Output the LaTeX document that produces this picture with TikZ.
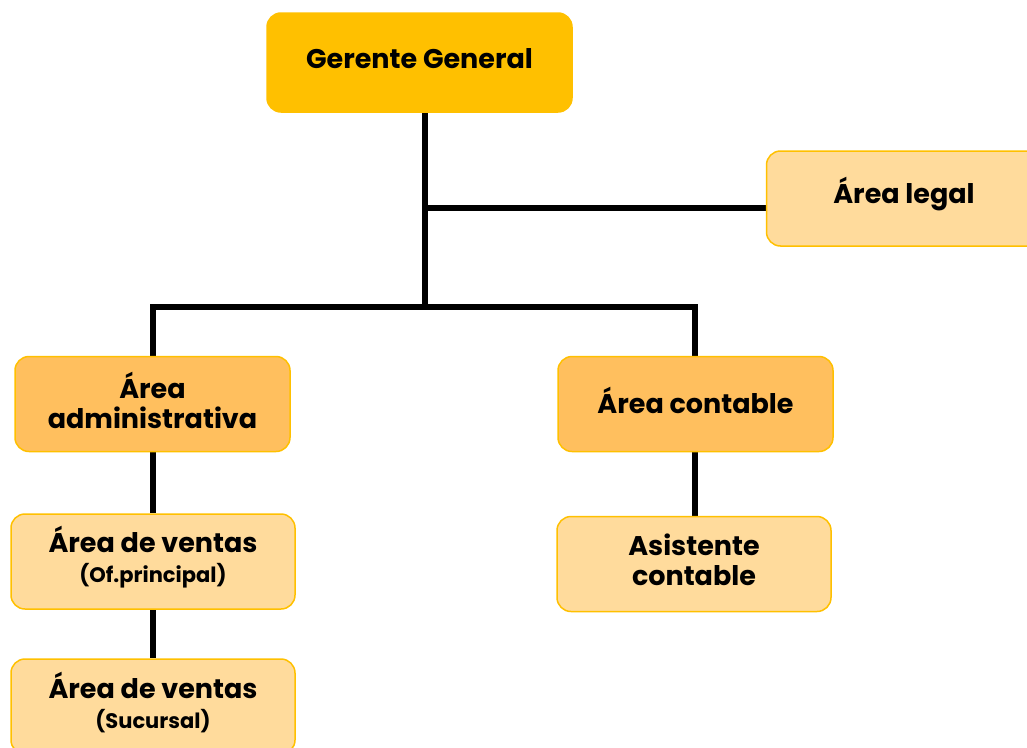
\documentclass[tikz,border=0pt]{standalone}
\usepackage{fontspec}
\setmainfont{Poppins}
\usetikzlibrary{backgrounds}
\definecolor{gold}{HTML}{FFC000}
\definecolor{midor}{HTML}{FFBF5E}
\definecolor{lightor}{HTML}{FFDB9C}
\newcommand{\subtxt}[1]{{\fontsize{21}{24}\selectfont #1}}
\begin{document}
\begin{tikzpicture}[x=1pt,y=-1pt,
  box/.style={rounded corners=14pt, line width=1.5pt, draw=gold,
    minimum width=#1, minimum height=95pt, inner sep=0pt},
  box/.default=275pt,
  txt/.style={label={[align=center, yshift=4pt, inner sep=0pt,
    font=\bfseries\fontsize{27}{30}\selectfont]center:#1}},
  top/.style={box=305pt, fill=gold, minimum height=99pt},
  lvltwo/.style={box, fill=midor},
  lvlthree/.style={box, fill=lightor},
  link/.style={line width=6pt, line join=miter}]
\useasboundingbox (0,0) rectangle (1027,747);
\clip (0,0) rectangle (1027,747);
\coordinate (j1) at (425,208);
\coordinate (j2) at (425,307);
\coordinate (jl) at (153,307);
\coordinate (jr) at (695,307);
\node[top, txt={Gerente General}] (gg) at (419.5,62.5) {};
\node[lvlthree, txt={Área legal}] (leg) at (904,198.5) {};
\node[lvltwo, minimum width=275pt, txt={Área\\administrativa}] (adm) at (152.5,404) {};
\node[lvltwo, minimum width=275pt, txt={Área contable}] (con) at (695.5,404) {};
\node[lvlthree, minimum width=284pt, txt={Área de ventas\\\subtxt{(Of.principal)}}] (v1) at (153,561.5) {};
\node[lvlthree, minimum width=284pt, txt={Área de ventas\\\subtxt{(Sucursal)}}] (v2) at (153,706.5) {};
\node[lvlthree, minimum width=274pt, txt={Asistente\\contable}] (as) at (694,564) {};
\begin{scope}[on background layer]
\draw[link] (gg.south -| j1) -- (j2);
\draw[link] (j1) -- (j1 -| leg.west);
\draw[link] (jl |- adm.north) -- (jl) -- (jr) -- (jr |- con.north);
\draw[link] (adm.south -| jl) -- (v1.north -| jl);
\draw[link] (v1.south -| jl) -- (v2.north -| jl);
\draw[link] (con.south -| jr) -- (as.north -| jr);
\end{scope}
\end{tikzpicture}
\end{document}
